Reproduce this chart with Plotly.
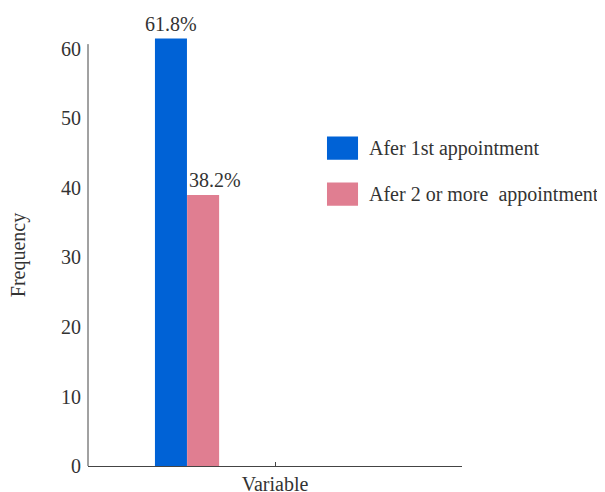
import plotly.graph_objects as go

categories = ["Variable"]
series_names = ["Afer 1st appointment", "Afer 2 or more  appointment"]
series_values = [[61.5], [39.0]]
series_labels = ["61.8%", "38.2%"]
colors = ["#0062D6", "#E07E91"]
y_ticks = [0, 10, 20, 30, 40, 50, 60]
y_title = "Frequency"

FONT = "Liberation Serif"
TXT = "#333333"
FS = 20

fig = go.Figure()
offsets = [-0.321, -0.235]
BW = 0.0856
label_anchor = ["center", "left"]
for i, (name, vals, lab, col, off) in enumerate(zip(series_names, series_values, series_labels, colors, offsets)):
    fig.add_trace(go.Bar(
        x=categories, y=vals, name=name, marker_color=col, marker_line_width=0,
        offset=off, width=BW, showlegend=False,
    ))
    ax = off + BW / 2 if label_anchor[i] == "center" else off
    fig.add_annotation(x=ax, y=vals[0], xref="x", yref="y", text=lab, showarrow=False,
                       xanchor=label_anchor[i], yanchor="bottom", yshift=2,
                       font=dict(family=FONT, size=FS, color=TXT))

# custom legend (large swatches)
leg_y = [0.734, 0.628]
for name, col, ly in zip(series_names, colors, leg_y):
    fig.add_shape(type="rect", xref="paper", yref="paper",
                  x0=0.639, x1=0.722, y0=ly - 0.027, y1=ly + 0.027,
                  fillcolor=col, line_width=0)
    fig.add_annotation(xref="paper", yref="paper", x=0.745, y=ly, text=name,
                       showarrow=False, xanchor="left", yanchor="middle",
                       font=dict(family=FONT, size=FS, color=TXT))

# y axis title
fig.add_annotation(xref="paper", yref="paper", x=-0.187, y=0.487, text=y_title,
                   textangle=-90, showarrow=False, xanchor="center", yanchor="middle",
                   font=dict(family=FONT, size=FS, color=TXT))

# y axis line
fig.add_shape(type="line", xref="paper", yref="y", x0=0, x1=0, y0=0, y1=60.7,
              line=dict(color="#444444", width=1))

fig.update_layout(
    width=597, height=484,
    margin=dict(l=80, r=143, t=25, b=26),
    paper_bgcolor="white", plot_bgcolor="white",
    barmode="group",
    font=dict(family=FONT, size=FS, color=TXT),
    xaxis=dict(type="category", range=[-0.5, 0.5], showline=True, linecolor="#444444",
               linewidth=1, ticks="inside", ticklen=4, tickcolor="#444444", automargin=False,
               ticklabelstandoff=0,
               showgrid=False, zeroline=False, tickfont=dict(family=FONT, size=FS, color=TXT)),
    yaxis=dict(range=[0, 62.3], tickvals=y_ticks, showline=False, showgrid=False,
               zeroline=False, ticks="", ticklabelstandoff=6, automargin=False,
               tickfont=dict(family=FONT, size=FS, color=TXT)),
)

fig.write_html("out.html")
